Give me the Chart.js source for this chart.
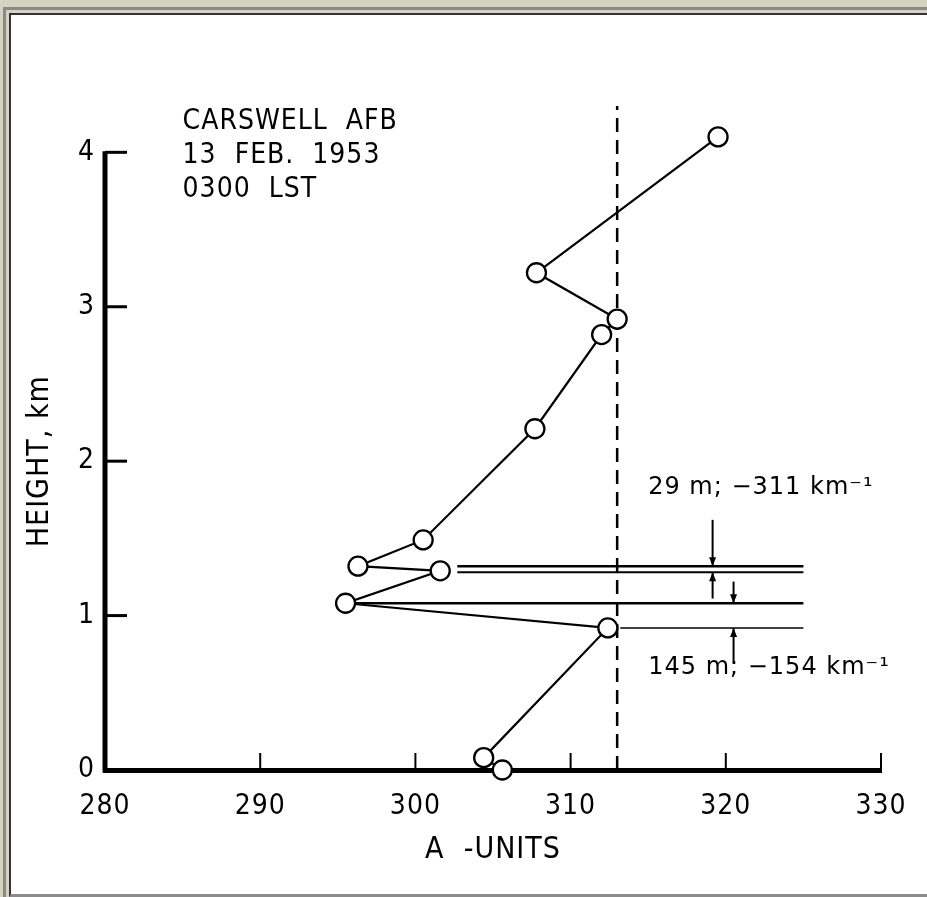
<!DOCTYPE html>
<html>
<head>
<meta charset="utf-8">
<script src="https://cdn.jsdelivr.net/npm/chart.js@4/dist/chart.umd.min.js"></script>
<style>
  body { margin: 0; background: #d4d5c1; width: 927px; height: 897px; overflow: hidden; }
  #outer { position: absolute; left: 3px; top: 7px; right: 0; bottom: 0; border-left: 3px solid #8a8a8a; border-top: 3px solid #8a8a8a; }
  #panel { position: absolute; left: 9px; top: 13px; width: 918px; height: 884px; box-sizing: border-box;
           background: #fff; border-left: 2px solid #333; border-top: 2px solid #333; border-bottom: 3px solid #8a8a8a; }
  #wrap { position: absolute; left: 11px; top: 15px; width: 916px; height: 879px; }
</style>
</head>
<body>
<div id="outer"></div>
<div id="panel"></div>
<div id="wrap"><canvas id="profileCanvas"></canvas></div>
<script>
// sounding profile
const aUnits   = [319.5, 307.8, 313.0, 312.0, 307.7, 300.5, 296.3, 301.6, 295.5, 312.4, 304.4, 305.6];
const heightKm = [4.10, 3.22, 2.92, 2.82, 2.21, 1.49, 1.32, 1.29, 1.08, 0.92, 0.08, 0.00];

const xTicks = [280, 290, 300, 310, 320, 330];
const yTicks = [0, 1, 2, 3, 4];

// dashed reference line
const refA = [313.0, 313.0];
const refHeight = [0, 4.3];

// layer boundaries drawn out to the right
const layerHeights = [1.32, 1.28, 1.08, 0.92];
const layerFrom = [302.7, 302.7, 295.5, 313.2];
const layerTo = [325, 325, 325, 325];

// thickness arrows
const arrowA = [319.15, 319.15, 320.5, 320.5];
const arrowFrom = [1.62, 1.11, 1.22, 0.69];
const arrowTo = [1.32, 1.28, 1.08, 0.92];

const headerLines = ['CARSWELL  AFB', '13  FEB.  1953', '0300  LST'];
const layerNotes = ['29 m; \u2212311 km\u207B\u00B9', '145 m; \u2212154 km\u207B\u00B9'];
const yTitle = 'HEIGHT, km';

const narrowFont = "'Liberation Sans Narrow', 'DejaVu Sans Condensed', 'DejaVu Sans', sans-serif";
const fontFamily = "'DejaVu Sans', sans-serif";
const ink = '#000';

const layerWidths = [2.5, 2, 2.5, 1.5];

const datasets = [{
  label: 'A-units',
  data: aUnits.map((a, i) => ({ x: a, y: heightKm[i] })),
  borderColor: ink,
  borderWidth: 2.2,
  pointRadius: 9.5,
  pointBorderWidth: 2.3,
  pointBackgroundColor: '#fff',
  pointBorderColor: ink,
  clip: false,
  order: 0
}, {
  label: 'reference',
  data: refA.map((a, i) => ({ x: a, y: refHeight[i] })),
  borderColor: ink,
  borderWidth: 2.5,
  borderDash: [14, 8],
  pointRadius: 0,
  clip: false,
  order: 2
}];

layerHeights.forEach((h, i) => {
  datasets.push({
    label: 'layer ' + i,
    data: [{ x: layerFrom[i], y: h }, { x: layerTo[i], y: h }],
    borderColor: ink,
    borderWidth: layerWidths[i],
    pointRadius: 0,
    clip: false,
    order: 1
  });
});

const arrowsPlugin = {
  id: 'arrows',
  afterDatasetsDraw(chart) {
    const { ctx, scales: { x, y } } = chart;
    ctx.save();
    ctx.strokeStyle = ink;
    ctx.fillStyle = ink;
    ctx.lineWidth = 2;
    arrowA.forEach((a, i) => {
      const px = x.getPixelForValue(a);
      const y0 = y.getPixelForValue(arrowFrom[i]);
      const y1 = y.getPixelForValue(arrowTo[i]);
      const dir = y1 > y0 ? 1 : -1;
      ctx.beginPath();
      ctx.moveTo(px, y0);
      ctx.lineTo(px, y1);
      ctx.stroke();
      ctx.beginPath();
      ctx.moveTo(px, y1);
      ctx.lineTo(px - 3.5, y1 - dir * 9);
      ctx.lineTo(px + 3.5, y1 - dir * 9);
      ctx.closePath();
      ctx.fill();
    });
    ctx.restore();
  }
};

// y axis line stops at 4 km, ticks point inward like the original
const axesPlugin = {
  id: 'inwardTicks',
  beforeDraw(chart) {
    chart.ctx.letterSpacing = '1px';
  },
  beforeDatasetsDraw(chart) {
    const { ctx, chartArea, scales: { x, y } } = chart;
    ctx.save();
    ctx.strokeStyle = ink;
    ctx.lineWidth = 5;
    ctx.beginPath();
    ctx.moveTo(chartArea.left, y.getPixelForValue(0) + 2.5);
    ctx.lineTo(chartArea.left, y.getPixelForValue(4) - 1);
    ctx.stroke();
    ctx.lineWidth = 3;
    yTicks.slice(1).forEach(v => {
      const py = y.getPixelForValue(v);
      ctx.beginPath();
      ctx.moveTo(chartArea.left, py);
      ctx.lineTo(chartArea.left + 22, py);
      ctx.stroke();
    });
    ctx.lineWidth = 2;
    xTicks.slice(1).forEach(v => {
      const px = x.getPixelForValue(v);
      ctx.beginPath();
      ctx.moveTo(px, chartArea.bottom);
      ctx.lineTo(px, chartArea.bottom - 17);
      ctx.stroke();
    });

    // axis title centred on the 0-4 km span, not on the padded area
    ctx.fillStyle = ink;
    ctx.font = '30px ' + narrowFont;
    ctx.textAlign = 'center';
    ctx.textBaseline = 'middle';
    ctx.translate(29, y.getPixelForValue(2));
    ctx.rotate(-Math.PI / 2);
    ctx.fillText(yTitle, 0, 0);
    ctx.restore();
  }
};

const notesPlugin = {
  id: 'notes',
  afterDraw(chart) {
    const { ctx, scales: { x, y } } = chart;
    ctx.save();
    ctx.fillStyle = ink;
    ctx.textBaseline = 'middle';
    ctx.textAlign = 'left';
    ctx.letterSpacing = '1px';
    ctx.font = '28px ' + narrowFont;
    const headerY = [4.20, 3.98, 3.76];
    headerLines.forEach((t, i) => ctx.fillText(t, x.getPixelForValue(285.0), y.getPixelForValue(headerY[i])));
    ctx.font = '24px ' + fontFamily;
    const noteY = [1.825, 0.66];
    layerNotes.forEach((t, i) => ctx.fillText(t, x.getPixelForValue(315.0), y.getPixelForValue(noteY[i])));
    ctx.restore();
  }
};

new Chart(document.getElementById('profileCanvas'), {
  type: 'line',
  data: { datasets },
  options: {
    responsive: true,
    maintainAspectRatio: false,
    animation: false,
    layout: { padding: { top: 91, right: 46, left: 0, bottom: 0 } },
    scales: {
      x: {
        type: 'linear',
        min: 280,
        max: 330,
        afterBuildTicks: s => { s.ticks = xTicks.map(v => ({ value: v })); },
        afterFit: s => { s.height = 124; },
        grid: { display: false },
        border: { display: true, color: ink, width: 5 },
        ticks: { color: ink, padding: 12, maxRotation: 0, font: { family: narrowFont, size: 28 } },
        title: { display: true, text: 'A  -UNITS', color: ink, padding: { bottom: 26 }, font: { family: narrowFont, size: 30 } }
      },
      y: {
        type: 'linear',
        min: 0,
        max: 4.3,
        afterBuildTicks: s => { s.ticks = yTicks.map(v => ({ value: v })); },
        afterFit: s => { s.width = 94; },
        grid: { display: false },
        border: { display: false },
        ticks: { color: ink, padding: 2, font: { family: narrowFont, size: 28 } },
        title: { display: false }
      }
    },
    plugins: {
      legend: { display: false },
      tooltip: { enabled: false }
    }
  },
  plugins: [arrowsPlugin, axesPlugin, notesPlugin]
});
</script>
</body>
</html>
